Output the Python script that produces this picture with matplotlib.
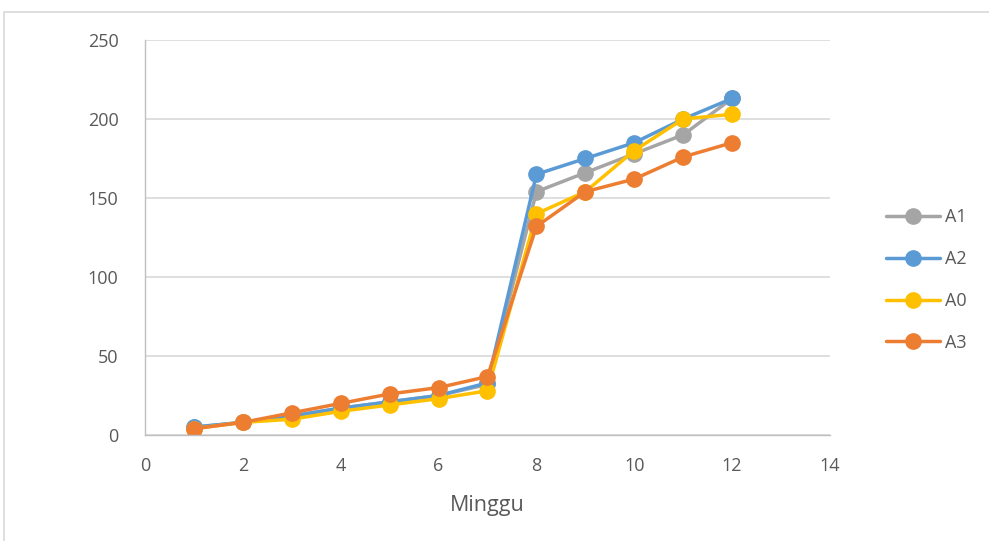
import matplotlib
matplotlib.use("Agg")
import matplotlib.pyplot as plt
from matplotlib.patches import Rectangle

weeks = [1, 2, 3, 4, 5, 6, 7, 8, 9, 10, 11, 12]
a1 = [5, 8, 12, 17, 21, 25, 32, 154, 166, 178, 190, 213]
a2 = [5, 8, 12, 17, 21, 25, 33, 165, 175, 185, 200, 213]
a0 = [4, 8, 10, 15, 19, 23, 28, 140, 154, 180, 200, 203]
a3 = [4, 8, 14, 20, 26, 30, 37, 132, 154, 162, 176, 185]

series = [("A1", a1, "#a5a5a5"), ("A2", a2, "#5b9bd5"),
          ("A0", a0, "#ffc000"), ("A3", a3, "#ed7d31")]

plt.rcParams['font.family'] = ['Open Sans', 'DejaVu Sans']

fig = plt.figure(figsize=(9.89, 5.41), dpi=100)
fig.patches.append(Rectangle((4 / 989, -0.1), 1.2, 1.1 - 12 / 541,
                             transform=fig.transFigure, facecolor='none',
                             edgecolor='#d9d9d9', linewidth=1.2))
ax = fig.add_axes([145 / 989, 1 - 435 / 541, 685 / 989, 395 / 541])

for name, vals, col in series:
    ax.plot(weeks, vals, color=col, linewidth=2.5, marker='o', markersize=11,
            label=name, solid_capstyle='round')

ax.set_xlim(0, 14)
ax.set_ylim(0, 250)
ax.set_xticks(range(0, 15, 2))
ax.set_yticks(range(0, 251, 50))
ax.grid(axis='y', color='#d9d9d9', linewidth=1.2)
ax.set_axisbelow(True)
for s in ['top', 'right']:
    ax.spines[s].set_visible(False)
for s in ['left', 'bottom']:
    ax.spines[s].set_color('#bfbfbf')
    ax.spines[s].set_linewidth(1.0)
ax.tick_params(length=0, labelsize=13, colors='#595959')
ax.tick_params(axis='x', pad=16)
ax.tick_params(axis='y', pad=19)
ax.set_xlabel("Minggu", fontsize=15.5, color='#595959', labelpad=14)

leg = fig.legend(loc='center left', bbox_to_anchor=(886 / 989, 1 - 280 / 541),
                 bbox_transform=fig.transFigure, frameon=False,
                 fontsize=13, handlelength=3.0, labelspacing=1.32,
                 handletextpad=0.28, borderpad=0, borderaxespad=0)
for t in leg.get_texts():
    t.set_color('#595959')

fig.savefig("out.png", dpi=100)
